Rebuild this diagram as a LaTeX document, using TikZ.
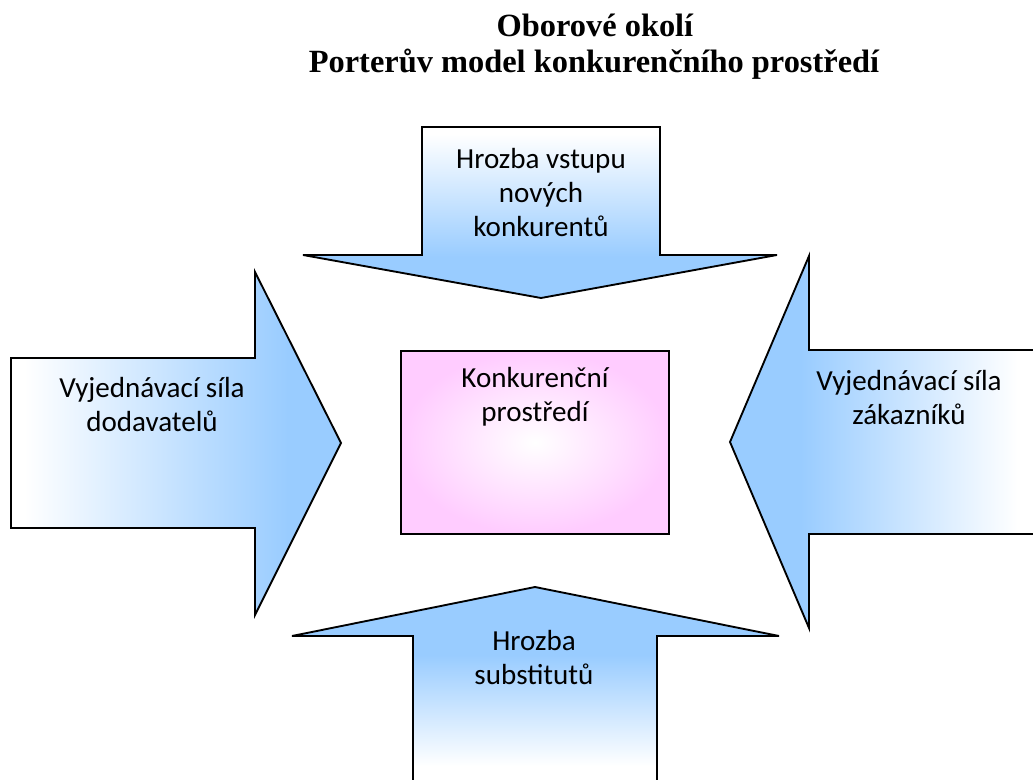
\documentclass[tikz,border=0pt]{standalone}
\usepackage{fontspec}
\usepackage{xcolor}
\usepackage{tikz}
\newfontfamily\bodyfont{Carlito}
\newfontfamily\headfont{Liberation Serif}
\definecolor{arrowblue}{RGB}{153,204,255}
\definecolor{boxpink}{RGB}{255,204,255}
\pgfdeclarehorizontalshading{fadetoright}{100bp}{color(0bp)=(white); color(27bp)=(white); color(67bp)=(arrowblue); color(100bp)=(arrowblue)}
\pgfdeclarehorizontalshading{fadetoleft}{100bp}{color(0bp)=(arrowblue); color(36bp)=(arrowblue); color(70bp)=(white); color(100bp)=(white)}
\pgfdeclareverticalshading{fadetodown}{100bp}{color(0bp)=(arrowblue); color(37bp)=(arrowblue); color(73bp)=(white); color(100bp)=(white)}
\pgfdeclareverticalshading{fadetoup}{100bp}{color(0bp)=(white); color(33bp)=(white); color(59bp)=(arrowblue); color(100bp)=(arrowblue)}
\tikzset{
  force/.style={line width=1.4pt, line join=miter, draw=black},
  forcetext/.style={font=\bodyfont\fontsize{21.8}{25.5}\selectfont, align=center, anchor=base, inner sep=0pt},
  headtext/.style={font=\headfont\bfseries\fontsize{24.3}{27.75}\selectfont, anchor=base, inner sep=0pt}
}
\begin{document}
\begin{tikzpicture}[x=0.75pt,y=-0.75pt]
\useasboundingbox (0,0) rectangle (1033,780);

\node[headtext] (title) at (595,37) {Oborové okolí};
\node[headtext] (subtitle) at (594,73) {Porterův model konkurenčního prostředí};

% the four forces
\shadedraw[force, shading=fadetodown] (422,127) -- (660,127) -- (660,255) -- (777,255) -- (541,298) -- (303,255) -- (422,255) -- cycle;
\shadedraw[force, shading=fadetoright] (11,358) -- (255,358) -- (255,272) -- (341,443) -- (255,615) -- (255,528) -- (11,528) -- cycle;
\shadedraw[force, shading=fadetoleft] (1050,350) -- (809,350) -- (809,256) -- (730,442) -- (809,628) -- (809,534) -- (1050,534) -- cycle;
\shadedraw[force, shading=fadetoup] (413,800) -- (413,636) -- (292,636) -- (535,587) -- (779,636) -- (657,636) -- (657,800) -- cycle;

% rivalry box
\shadedraw[line width=1.4pt, inner color=white, outer color=boxpink] (401,351) rectangle (669,534);

% labels (anchor base = last line)
\node[forcetext] (entrants) at (541,237) {Hrozba vstupu\\nových\\konkurentů};
\node[forcetext] (suppliers) at (152,432) {Vyjednávací síla\\dodavatelů};
\node[forcetext] (buyers) at (909,425) {Vyjednávací síla\\zákazníků};
\node[forcetext] (substitutes) at (534,685) {Hrozba\\substitutů};
\node[forcetext] (rivalry) at (535,422) {Konkurenční\\prostředí};

\end{tikzpicture}
\end{document}
